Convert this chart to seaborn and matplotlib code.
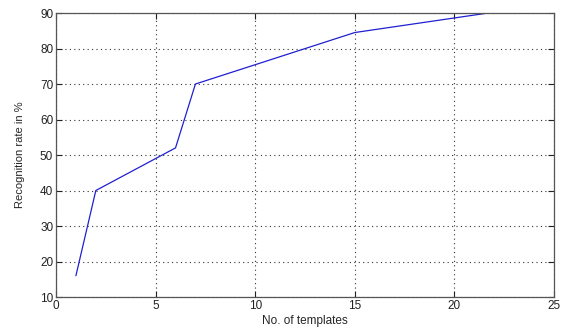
import pandas as pd
import matplotlib.pyplot as plt
import seaborn as sns

# values
templates = [1, 2, 6, 7, 15, 21.7]
recognition = [16, 40, 52, 70, 84.5, 90]

df = pd.DataFrame({"templates": templates, "rate": recognition})

sns.set_style("white")
plt.rcParams['font.family'] = ['Liberation Sans', 'DejaVu Sans']

fig = plt.figure(figsize=(5.61, 3.31), dpi=100)
ax = fig.add_axes([0.0998, 0.1027, 0.8877, 0.858])

sns.lineplot(data=df, x="templates", y="rate", color="#2020d0", linewidth=0.9, ax=ax)

ax.set_xlim(0, 25)
ax.set_ylim(10, 90)
ax.set_xticks([0, 5, 10, 15, 20, 25])
ax.set_yticks(range(10, 91, 10))
ax.grid(True, color="#333333", linestyle=(0, (1, 3)), linewidth=0.8)
ax.tick_params(direction="in", length=4, width=0.8, labelsize=8.5, colors="#222222",
               top=True, right=True, bottom=True, left=True, pad=2)
for s in ax.spines.values():
    s.set_color("#555555")
    s.set_linewidth(0.9)

ax.set_xlabel("No. of templates", fontsize=8.5, labelpad=2)
ax.set_ylabel("Recognition rate in %", fontsize=8, labelpad=11)

fig.savefig("out.png", dpi=100)
